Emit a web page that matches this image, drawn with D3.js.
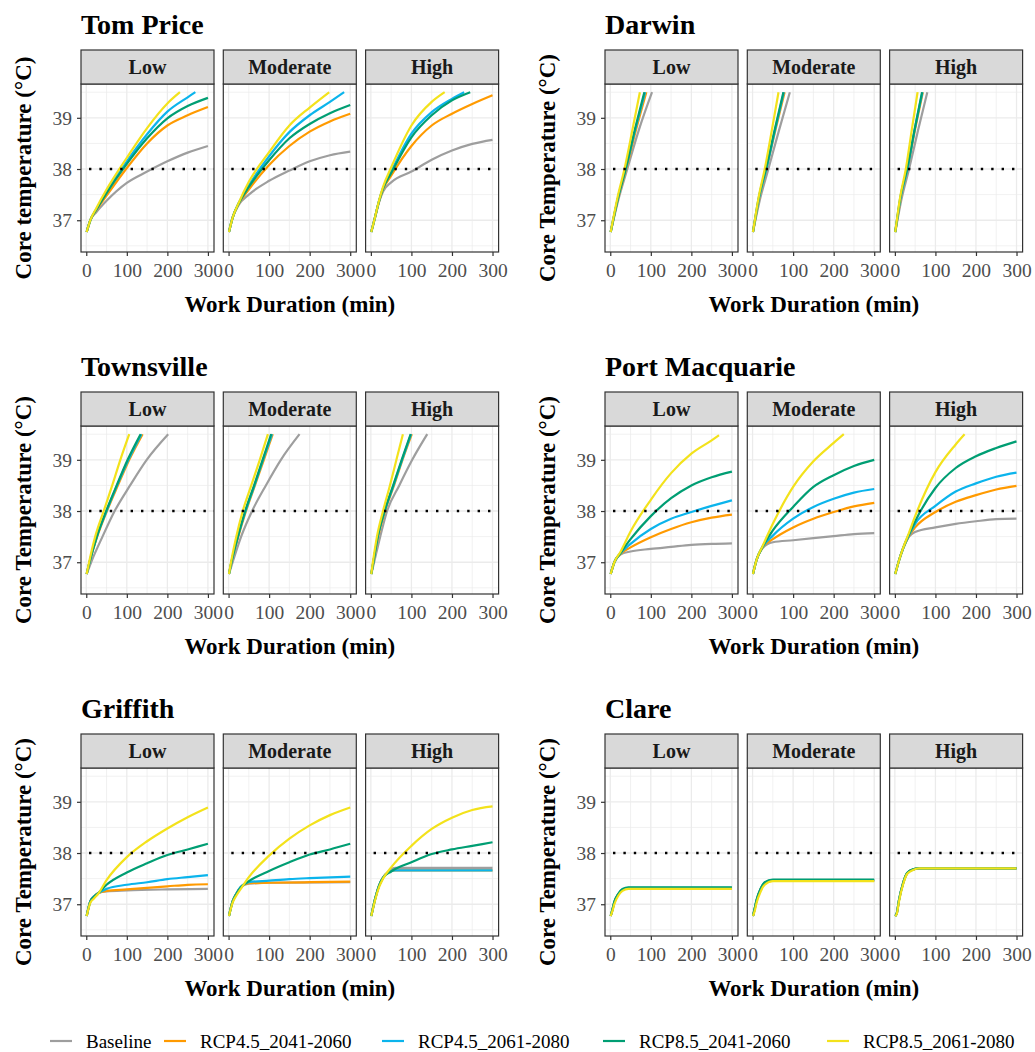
<!DOCTYPE html>
<html>
<head>
<meta charset="utf-8">
<script src="https://cdn.jsdelivr.net/npm/d3@7"></script>
<style>
  body { margin: 0; background: #fff; }
  text { font-family: "Liberation Serif", "Times New Roman", serif; }
</style>
</head>
<body>
<svg id="chart" width="1035" height="1052"></svg>
<script>
const sites = ["Tom Price", "Darwin", "Townsville", "Port Macquarie", "Griffith", "Clare"];
const levels = ["Low", "Moderate", "High"];
const scenarios = ["Baseline", "RCP4.5_2041-2060", "RCP4.5_2061-2080", "RCP8.5_2041-2060", "RCP8.5_2061-2080"];
const colors = ["#9E9E9E", "#FF9A00", "#0BB4EC", "#009E73", "#F3E21B"];
const xTicks = [0, 100, 200, 300];
const yTicks = [37, 38, 39];
const threshold = 38;

// each array: [Baseline, RCP4.5 41-60, RCP4.5 61-80, RCP8.5 41-60, RCP8.5 61-80], points are [minutes, °C]
const tomPriceLow = [
  [[1,36.77],[10,37.0],[25,37.16],[50,37.38],[100,37.73],[150,37.95],[200,38.15],[250,38.32],[300,38.45]],
  [[1,36.77],[10,37.0],[25,37.2],[50,37.48],[100,38.02],[150,38.5],[200,38.85],[250,39.05],[300,39.21]],
  [[1,36.77],[10,37.0],[25,37.22],[50,37.55],[100,38.15],[150,38.68],[200,39.12],[250,39.4],[269,39.5]],
  [[1,36.77],[10,37.0],[25,37.21],[50,37.53],[100,38.1],[150,38.6],[200,38.99],[250,39.23],[300,39.39]],
  [[1,36.77],[10,37.0],[25,37.24],[50,37.6],[100,38.22],[150,38.8],[200,39.28],[231,39.5]]
];
const tomPriceModerate = [
  [[1,36.77],[10,37.05],[25,37.3],[50,37.5],[100,37.77],[150,37.97],[200,38.15],[250,38.27],[300,38.34]],
  [[1,36.77],[10,37.05],[25,37.32],[50,37.6],[100,38.08],[150,38.45],[200,38.73],[250,38.93],[300,39.08]],
  [[1,36.77],[10,37.05],[25,37.33],[50,37.68],[100,38.25],[150,38.72],[200,39.05],[250,39.31],[285,39.5]],
  [[1,36.77],[10,37.05],[25,37.33],[50,37.65],[100,38.17],[150,38.6],[200,38.88],[250,39.09],[300,39.25]],
  [[1,36.77],[10,37.05],[25,37.34],[50,37.75],[100,38.33],[150,38.85],[200,39.2],[248,39.5]]
];
const tomPriceHigh = [
  [[1,36.77],[10,37.05],[20,37.35],[30,37.56],[50,37.74],[100,37.95],[150,38.18],[200,38.36],[250,38.49],[300,38.57]],
  [[1,36.77],[10,37.05],[20,37.36],[30,37.6],[50,37.87],[100,38.45],[150,38.85],[200,39.08],[250,39.27],[300,39.44]],
  [[1,36.77],[10,37.05],[20,37.37],[30,37.62],[50,37.95],[100,38.69],[150,39.11],[200,39.37],[230,39.5]],
  [[1,36.77],[10,37.05],[20,37.37],[30,37.62],[50,37.92],[100,38.62],[150,39.05],[200,39.34],[245,39.5]],
  [[1,36.77],[10,37.05],[20,37.38],[30,37.65],[50,38.03],[100,38.85],[150,39.31],[182,39.5]]
];

const darwinLow = [
  [[1,36.77],[20,37.4],[42,38.0],[70,38.75],[103,39.5]],
  [[1,36.77],[20,37.45],[39,38.0],[64,38.78],[89,39.5]],
  [[1,36.77],[20,37.47],[38,38.0],[62,38.78],[86,39.5]],
  [[1,36.77],[20,37.47],[38,38.0],[61,38.78],[84,39.5]],
  [[1,36.77],[18,37.45],[35,38.0],[55,38.78],[73,39.5]]
];
const darwinModerate = [
  [[1,36.77],[18,37.4],[39,38.0],[65,38.75],[92,39.5]],
  [[1,36.77],[17,37.45],[34,38.0],[57,38.78],[79,39.5]],
  [[1,36.77],[17,37.47],[34,38.0],[56,38.78],[77,39.5]],
  [[1,36.77],[16,37.47],[33,38.0],[55,38.78],[76,39.5]],
  [[1,36.77],[15,37.45],[30,38.0],[48,38.78],[64,39.5]]
];
const darwinHigh = [
  [[1,36.77],[16,37.4],[35,38.0],[57,38.75],[80,39.5]],
  [[1,36.77],[15,37.45],[31,38.0],[50,38.78],[69,39.5]],
  [[1,36.77],[15,37.47],[31,38.0],[49,38.78],[68,39.5]],
  [[1,36.77],[14,37.47],[30,38.0],[49,38.78],[67,39.5]],
  [[1,36.77],[13,37.45],[27,38.0],[42,38.78],[56,39.5]]
];

const townsvilleLow = [
  [[1,36.77],[12,37.0],[40,37.5],[70,38.0],[108,38.5],[149,39.0],[202,39.5]],
  [[1,36.77],[8,37.0],[27,37.5],[51,38.0],[78,38.5],[106,39.0],[139,39.5]],
  [[1,36.77],[8,37.0],[26,37.5],[50,38.0],[76,38.5],[104,39.0],[136,39.5]],
  [[1,36.77],[8,37.0],[26,37.5],[49,38.0],[75,38.5],[102,39.0],[134,39.5]],
  [[1,36.77],[7,37.0],[22,37.5],[43,38.0],[64,38.5],[84,39.0],[106,39.5]]
];
const townsvilleModerate = [
  [[1,36.77],[10,37.0],[31,37.5],[58,38.0],[92,38.5],[129,39.0],[175,39.5]],
  [[1,36.77],[7,37.0],[24,37.5],[43,38.0],[65,38.5],[87,39.0],[109,39.5]],
  [[1,36.77],[7,37.0],[23,37.5],[42,38.0],[64,38.5],[85,39.0],[107,39.5]],
  [[1,36.77],[7,37.0],[23,37.5],[41,38.0],[63,38.5],[84,39.0],[105,39.5]],
  [[1,36.77],[6,37.0],[19,37.5],[35,38.0],[56,38.5],[77,39.0],[97,39.5]]
];
const townsvilleHigh = [
  [[1,36.77],[8,37.0],[23,37.5],[40,38.0],[70,38.5],[102,39.0],[139,39.5]],
  [[1,36.77],[6,37.0],[18,37.5],[35,38.0],[57,38.5],[78,39.0],[101,39.5]],
  [[1,36.77],[6,37.0],[17,37.5],[34,38.0],[56,38.5],[77,39.0],[99,39.5]],
  [[1,36.77],[6,37.0],[17,37.5],[34,38.0],[55,38.5],[76,39.0],[98,39.5]],
  [[1,36.77],[5,37.0],[15,37.5],[30,38.0],[47,38.5],[63,39.0],[79,39.5]]
];

const portMacquarieLow = [
  [[1,36.77],[10,37.0],[25,37.15],[50,37.21],[100,37.26],[150,37.3],[200,37.34],[250,37.36],[300,37.37]],
  [[1,36.77],[10,37.0],[25,37.16],[50,37.29],[100,37.49],[150,37.65],[200,37.78],[250,37.87],[300,37.93]],
  [[1,36.77],[10,37.0],[25,37.17],[50,37.36],[100,37.65],[150,37.85],[200,37.98],[250,38.1],[300,38.21]],
  [[1,36.77],[10,37.0],[25,37.18],[50,37.45],[100,37.9],[150,38.25],[200,38.5],[250,38.66],[300,38.77]],
  [[1,36.77],[10,37.0],[25,37.2],[50,37.6],[100,38.22],[150,38.74],[200,39.12],[250,39.38],[268,39.48]]
];
const portMacquarieModerate = [
  [[1,36.77],[10,37.05],[25,37.28],[50,37.39],[100,37.43],[150,37.47],[200,37.51],[250,37.55],[300,37.57]],
  [[1,36.77],[10,37.05],[25,37.29],[50,37.45],[100,37.68],[150,37.85],[200,37.98],[250,38.09],[300,38.16]],
  [[1,36.77],[10,37.05],[25,37.3],[50,37.52],[100,37.85],[150,38.08],[200,38.24],[250,38.36],[300,38.43]],
  [[1,36.77],[10,37.05],[25,37.31],[50,37.62],[100,38.08],[150,38.47],[200,38.7],[250,38.88],[300,39.0]],
  [[1,36.77],[10,37.05],[25,37.32],[50,37.75],[100,38.47],[150,38.97],[200,39.33],[225,39.5]]
];
const portMacquarieHigh = [
  [[1,36.77],[10,37.03],[20,37.26],[35,37.5],[50,37.59],[100,37.68],[150,37.75],[200,37.8],[250,37.84],[300,37.85]],
  [[1,36.77],[10,37.03],[20,37.26],[35,37.52],[50,37.68],[100,37.98],[150,38.18],[200,38.31],[250,38.42],[300,38.49]],
  [[1,36.77],[10,37.03],[20,37.26],[35,37.53],[50,37.75],[100,38.1],[150,38.38],[200,38.54],[250,38.67],[300,38.75]],
  [[1,36.77],[10,37.03],[20,37.27],[35,37.55],[50,37.8],[100,38.45],[150,38.84],[200,39.07],[250,39.23],[300,39.36]],
  [[1,36.77],[10,37.03],[20,37.27],[35,37.58],[50,37.9],[100,38.76],[150,39.3],[172,39.5]]
];

const griffithLow = [
  [[1,36.77],[10,37.06],[20,37.16],[30,37.22],[50,37.25],[100,37.27],[200,37.29],[300,37.3]],
  [[1,36.77],[10,37.06],[20,37.16],[30,37.22],[50,37.26],[100,37.29],[150,37.32],[200,37.35],[250,37.38],[300,37.39]],
  [[1,36.77],[10,37.06],[20,37.16],[30,37.22],[50,37.3],[100,37.38],[150,37.43],[200,37.49],[250,37.53],[300,37.57]],
  [[1,36.77],[10,37.05],[20,37.15],[30,37.22],[50,37.38],[100,37.62],[150,37.8],[200,37.96],[250,38.07],[300,38.18]],
  [[1,36.77],[10,37.03],[20,37.12],[30,37.21],[50,37.47],[100,37.92],[150,38.23],[200,38.48],[250,38.7],[300,38.89]]
];
const griffithModerate = [
  [[1,36.77],[10,37.06],[20,37.22],[30,37.33],[50,37.4],[100,37.42],[300,37.43]],
  [[1,36.77],[10,37.06],[20,37.22],[30,37.33],[50,37.41],[100,37.42],[200,37.43],[300,37.44]],
  [[1,36.77],[10,37.06],[20,37.22],[30,37.34],[50,37.43],[100,37.46],[150,37.49],[200,37.51],[300,37.54]],
  [[1,36.77],[10,37.05],[20,37.21],[30,37.33],[50,37.45],[100,37.65],[150,37.82],[200,37.97],[250,38.07],[300,38.18]],
  [[1,36.77],[10,37.03],[20,37.18],[30,37.3],[50,37.53],[100,37.95],[150,38.28],[200,38.54],[250,38.74],[300,38.89]]
];
const griffithHigh = [
  [[1,36.77],[10,37.09],[20,37.36],[30,37.52],[45,37.65],[60,37.71],[300,37.71]],
  [[1,36.77],[10,37.09],[20,37.36],[30,37.52],[45,37.63],[60,37.66],[300,37.66]],
  [[1,36.77],[10,37.09],[20,37.36],[30,37.52],[45,37.63],[60,37.66],[300,37.66]],
  [[1,36.77],[10,37.09],[20,37.36],[30,37.52],[50,37.64],[100,37.82],[150,37.98],[200,38.07],[250,38.14],[300,38.21]],
  [[1,36.77],[10,37.07],[20,37.33],[30,37.5],[50,37.72],[100,38.14],[150,38.47],[200,38.69],[250,38.84],[300,38.91]]
];

const clareLow = [
  [[1,36.77],[5,36.88],[10,37.04],[20,37.2],[30,37.28],[45,37.31],[300,37.31]],
  [[1,36.77],[5,36.88],[10,37.04],[20,37.2],[30,37.28],[45,37.31],[300,37.31]],
  [[1,36.77],[5,36.88],[10,37.04],[20,37.2],[30,37.29],[45,37.32],[300,37.32]],
  [[1,36.77],[5,36.89],[10,37.05],[20,37.21],[30,37.3],[45,37.33],[300,37.33]],
  [[1,36.77],[5,36.86],[10,37.0],[20,37.17],[30,37.26],[45,37.3],[300,37.3]]
];
const clareModerate = [
  [[1,36.77],[5,36.9],[10,37.08],[20,37.3],[30,37.41],[50,37.46],[300,37.46]],
  [[1,36.77],[5,36.9],[10,37.08],[20,37.3],[30,37.41],[50,37.46],[300,37.46]],
  [[1,36.77],[5,36.9],[10,37.08],[20,37.3],[30,37.42],[50,37.47],[300,37.47]],
  [[1,36.77],[5,36.91],[10,37.09],[20,37.31],[30,37.43],[50,37.48],[300,37.48]],
  [[1,36.77],[5,36.86],[10,37.03],[20,37.25],[30,37.38],[50,37.45],[300,37.45]]
];
const clareHigh = [
  [[1,36.77],[5,36.83],[10,37.07],[20,37.4],[30,37.6],[45,37.68],[60,37.7],[300,37.7]],
  [[1,36.77],[5,36.83],[10,37.07],[20,37.4],[30,37.6],[45,37.68],[60,37.7],[300,37.7]],
  [[1,36.77],[5,36.83],[10,37.07],[20,37.4],[30,37.6],[45,37.68],[60,37.7],[300,37.7]],
  [[1,36.77],[5,36.84],[10,37.08],[20,37.41],[30,37.61],[45,37.68],[60,37.7],[300,37.7]],
  [[1,36.77],[5,36.82],[10,37.05],[20,37.38],[30,37.59],[45,37.67],[60,37.7],[300,37.7]]
];

const siteData = {
  "Tom Price": [tomPriceLow, tomPriceModerate, tomPriceHigh],
  "Darwin": [darwinLow, darwinModerate, darwinHigh],
  "Townsville": [townsvilleLow, townsvilleModerate, townsvilleHigh],
  "Port Macquarie": [portMacquarieLow, portMacquarieModerate, portMacquarieHigh],
  "Griffith": [griffithLow, griffithModerate, griffithHigh],
  "Clare": [clareLow, clareModerate, clareHigh]
};

// layout
const colLeft = [81, 605];
const rowTop = [50, 392, 734];
const facetW = 133, facetStep = 142.3, stripH = 34, panelH = 168;

const svg = d3.select("#chart");
svg.append("rect").attr("width", 1035).attr("height", 1052).attr("fill", "#fff");

const x = d3.scaleLinear().domain([-13, 315]).range([0, facetW]);
const y = d3.scaleLinear().domain([36.38, 39.66]).range([panelH, 0]);

const line = d3.line()
  .x(d => x(d[0]))
  .y(d => y(d[1]))
  .curve(d3.curveMonotoneX);

sites.forEach((site, si) => {
  const left = colLeft[si % 2];
  const top = rowTop[Math.floor(si / 2)];
  const panelTop = top + stripH;

  svg.append("text")
    .attr("x", left).attr("y", top - 16)
    .attr("font-size", 28).attr("font-weight", "bold").attr("fill", "#000")
    .text(site);

  levels.forEach((lvl, li) => {
    const g = svg.append("g")
      .attr("transform", `translate(${left + li * facetStep},${panelTop})`);

    g.append("rect").attr("width", facetW).attr("height", panelH).attr("fill", "#fff");

    // minor grid
    [50, 150, 250].forEach(v => g.append("line")
      .attr("x1", x(v)).attr("x2", x(v)).attr("y1", 0).attr("y2", panelH)
      .attr("stroke", "#EBEBEB").attr("stroke-width", 0.7));
    [36.5, 37.5, 38.5, 39.5].forEach(v => g.append("line")
      .attr("x1", 0).attr("x2", facetW).attr("y1", y(v)).attr("y2", y(v))
      .attr("stroke", "#EBEBEB").attr("stroke-width", 0.7));
    // major grid
    xTicks.forEach(v => g.append("line")
      .attr("x1", x(v)).attr("x2", x(v)).attr("y1", 0).attr("y2", panelH)
      .attr("stroke", "#EBEBEB").attr("stroke-width", 1.3));
    yTicks.forEach(v => g.append("line")
      .attr("x1", 0).attr("x2", facetW).attr("y1", y(v)).attr("y2", y(v))
      .attr("stroke", "#EBEBEB").attr("stroke-width", 1.3));

    const series = siteData[site][li];
    series.forEach((pts, k) => {
      g.append("path")
        .datum(pts)
        .attr("fill", "none")
        .attr("stroke", colors[k])
        .attr("stroke-width", 2.2)
        .attr("d", line);
    });

    g.append("line")
      .attr("x1", 0).attr("x2", facetW)
      .attr("y1", y(threshold)).attr("y2", y(threshold))
      .attr("stroke", "#000").attr("stroke-width", 2.4)
      .attr("stroke-dasharray", "2.4 8")
      .attr("stroke-dashoffset", -8);

    g.append("rect").attr("width", facetW).attr("height", panelH)
      .attr("fill", "none").attr("stroke", "#333").attr("stroke-width", 1.2);

    // strip
    g.append("rect").attr("y", -stripH).attr("width", facetW).attr("height", stripH)
      .attr("fill", "#D9D9D9").attr("stroke", "#333").attr("stroke-width", 1.2);
    g.append("text")
      .attr("x", facetW / 2).attr("y", -stripH / 2 + 7)
      .attr("text-anchor", "middle")
      .attr("font-size", 20).attr("font-weight", "bold").attr("fill", "#1A1A1A")
      .text(lvl);

    // x axis
    const xa = g.append("g")
      .attr("transform", `translate(0,${panelH})`)
      .call(d3.axisBottom(x).tickValues(xTicks).tickFormat(d3.format("d")).tickSize(4).tickPadding(7));
    xa.select(".domain").remove();
    xa.selectAll("line").attr("stroke", "#333").attr("stroke-width", 1.2);
    xa.selectAll("text").attr("font-size", 19.5).attr("fill", "#4D4D4D")
      .attr("font-family", "Liberation Serif, serif");

    if (li === 0) {
      const ya = g.append("g")
        .call(d3.axisLeft(y).tickValues(yTicks).tickFormat(d3.format("d")).tickSize(4).tickPadding(5));
      ya.select(".domain").remove();
      ya.selectAll("line").attr("stroke", "#333").attr("stroke-width", 1.2);
      ya.selectAll("text").attr("font-size", 19.5).attr("fill", "#4D4D4D")
        .attr("font-family", "Liberation Serif, serif");
    }
  });

  // axis titles
  const totalW = 2 * facetStep + facetW;
  svg.append("text")
    .attr("x", left + totalW / 2).attr("y", panelTop + panelH + 60)
    .attr("text-anchor", "middle")
    .attr("font-size", 23).attr("font-weight", "bold").attr("fill", "#000")
    .text("Work Duration (min)");

  svg.append("text")
    .attr("transform", `translate(${left - 50},${panelTop + panelH / 2}) rotate(-90)`)
    .attr("text-anchor", "middle")
    .attr("font-size", 23).attr("font-weight", "bold").attr("fill", "#000")
    .text(si === 0 ? "Core temperature (°C)" : "Core Temperature (°C)");
});

// legend
const legendX = [50, 164, 382, 603, 827];
const legend = svg.append("g");
scenarios.forEach((s, k) => {
  legend.append("line")
    .attr("x1", legendX[k]).attr("x2", legendX[k] + 22)
    .attr("y1", 1041).attr("y2", 1041)
    .attr("stroke", colors[k]).attr("stroke-width", 2.2);
  legend.append("text")
    .attr("x", legendX[k] + 36).attr("y", 1048)
    .attr("font-size", 19).attr("fill", "#000")
    .text(s);
});
</script>
</body>
</html>
